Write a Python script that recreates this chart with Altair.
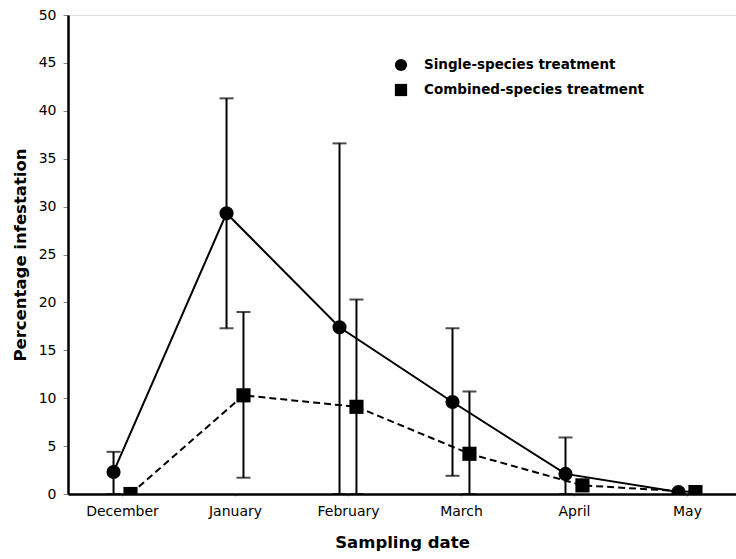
import altair as alt
import pandas as pd

months = ["December", "January", "February", "March", "April", "May"]
series = ["Single-species treatment", "Combined-species treatment"]

single_mean = [2.3, 29.3, 17.4, 9.6, 2.1, 0.2]
single_upper = [4.4, 41.3, 36.6, 17.3, 5.9, 0.2]
single_lower = [0.0, 17.3, 0.0, 1.9, 0.0, 0.2]

combined_mean = [0.0, 10.3, 9.1, 4.2, 0.9, 0.2]
combined_upper = [0.0, 19.0, 20.3, 10.7, 0.9, 0.2]
combined_lower = [0.0, 1.7, 0.0, 0.0, 0.9, 0.2]

FONT = "DejaVu Sans"
OFFSET = 0.075
rows = []
for s, mean, up, lo, dx in [
    (series[0], single_mean, single_upper, single_lower, -OFFSET),
    (series[1], combined_mean, combined_upper, combined_lower, OFFSET),
]:
    for i, m in enumerate(months):
        rows.append({"series": s, "month": m, "xpos": i + dx,
                     "mean": mean[i], "upper": up[i], "lower": lo[i],
                     "has_err": up[i] > mean[i]})
df = pd.DataFrame(rows)

label_expr = "[" + ",".join(f"'{m}'" for m in months) + "][datum.value]"

x = alt.X("xpos:Q",
          scale=alt.Scale(domain=[-0.478, 5.434], nice=False, zero=False),
          axis=alt.Axis(values=list(range(len(months))), labelExpr=label_expr,
                        title="Sampling date", grid=False, tickSize=2,
                        domain=True, domainColor="black", domainWidth=2.5,
                        labelFont=FONT, titleFont=FONT,
                        labelFontSize=14, labelPadding=8,
                        titleFontSize=16.5, titleFontWeight="bold", titlePadding=16))
y = alt.Y("mean:Q",
          scale=alt.Scale(domain=[0, 50], nice=False),
          axis=alt.Axis(values=list(range(0, 51, 5)), title="Percentage infestation",
                        grid=False, tickSize=5,
                        domain=True, domainColor="black", domainWidth=2.5,
                        labelFont=FONT, titleFont=FONT,
                        labelFontSize=14, labelPadding=7,
                        titleFontSize=16.5, titleFontWeight="bold", titlePadding=10))

base = alt.Chart(df)

line_single = base.transform_filter(alt.datum.series == series[0]).mark_line(
    color="black", strokeWidth=2, clip=True).encode(x=x, y=y)
line_comb = base.transform_filter(alt.datum.series == series[1]).mark_line(
    color="black", strokeWidth=2, strokeDash=[7, 4], clip=True).encode(x=x, y=y)

errbase = base.transform_filter("datum.has_err")
err = errbase.mark_rule(color="black", strokeWidth=2, clip=True).encode(
    x="xpos:Q", y="upper:Q", y2="lower:Q")
cap_up = errbase.mark_tick(color="black", thickness=2, size=14,
                           orient="horizontal", clip=True).encode(x="xpos:Q", y="upper:Q")
cap_lo = errbase.mark_tick(color="black", thickness=2, size=14,
                           orient="horizontal", clip=True).encode(x="xpos:Q", y="lower:Q")

points = base.mark_point(filled=True, color="black", opacity=1, size=200, clip=True).encode(
    x="xpos:Q", y="mean:Q",
    shape=alt.Shape("series:N",
                    scale=alt.Scale(domain=series, range=["circle", "square"]),
                    legend=alt.Legend(title=None, orient="none", legendX=326, legendY=43,
                                      labelFont=FONT, labelFontSize=13.5,
                                      labelFontWeight="bold", labelColor="black",
                                      labelLimit=0,
                                      symbolFillColor="black", symbolStrokeColor="black",
                                      symbolSize=150, rowPadding=5, labelOffset=16)),
)

chart = alt.layer(line_single, line_comb, err, cap_up, cap_lo, points).properties(
    width=668, height=479,
    autosize=alt.AutoSizeParams(type="none"),
    padding={"left": 68, "top": 15, "right": 0, "bottom": 65},
).configure_view(stroke=None).configure_axis(
    tickColor="black", tickWidth=2,
    labelColor="black", titleColor="black",
).configure(background="white")

chart.save("out.html", embed_options={"renderer": "svg", "actions": False})
